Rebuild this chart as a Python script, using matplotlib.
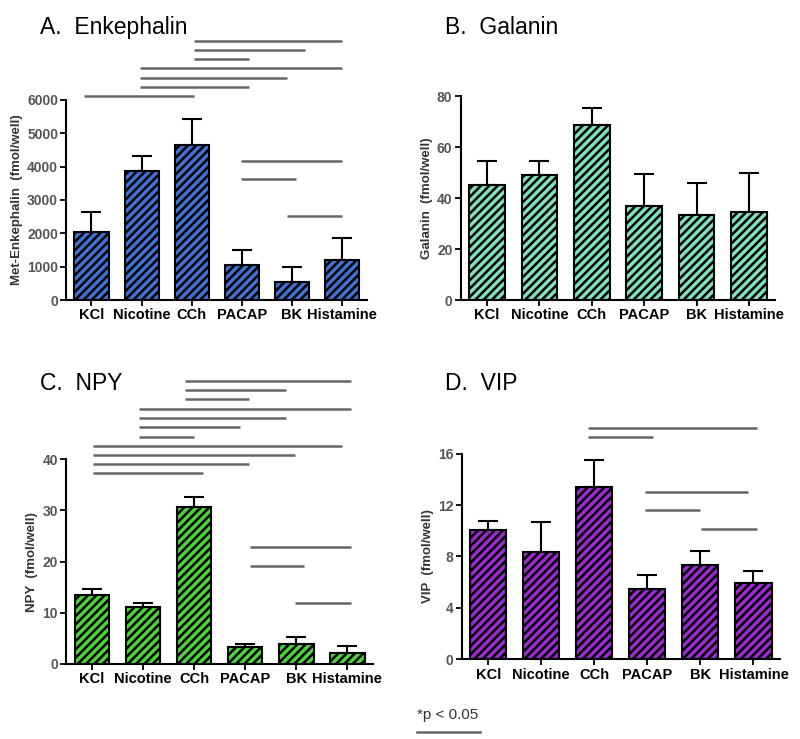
import matplotlib.pyplot as plt
import numpy as np

plt.rcParams['font.family'] = ['Liberation Sans', 'DejaVu Sans']
plt.rcParams['hatch.linewidth'] = 1.8

groups = ['KCl', 'Nicotine', 'CCh', 'PACAP', 'BK', 'Histamine']

enk_mean = [2050, 3880, 4640, 1050, 530, 1200]
enk_err = [580, 450, 780, 450, 450, 650]
gal_mean = [45.0, 48.9, 68.5, 36.7, 33.3, 34.5]
gal_err = [9.7, 5.5, 6.9, 12.9, 12.6, 15.3]
npy_mean = [13.4, 11.2, 30.7, 3.3, 3.9, 2.1]
npy_err = [1.2, 0.8, 1.9, 0.6, 1.3, 1.5]
vip_mean = [10.08, 8.36, 13.4, 5.45, 7.35, 5.92]
vip_err = [0.67, 2.29, 2.08, 1.1, 1.09, 0.91]

# significance bars: (x start, x end, y level)
enk_sig = [(2.05, 5.0, 7770), (2.05, 4.25, 7490), (2.05, 3.15, 7210),
           (0.96, 5.0, 6940), (0.96, 3.9, 6660), (0.96, 3.15, 6380),
           (-0.15, 2.05, 6100),
           (2.99, 5.0, 4170), (2.99, 4.07, 3620), (3.9, 5.0, 2520)]
npy_sig = [(1.83, 5.07, 55.3), (1.83, 3.8, 53.5), (1.83, 3.08, 51.7),
           (0.92, 5.07, 49.9), (0.92, 3.8, 48.0), (0.92, 2.9, 46.3), (0.92, 1.99, 44.4),
           (0.02, 4.9, 42.6), (0.02, 3.98, 40.8), (0.02, 3.08, 39.0), (0.02, 2.18, 37.3),
           (3.09, 5.07, 22.8), (3.09, 4.16, 19.2), (3.98, 5.07, 11.9)]
vip_sig = [(1.88, 5.07, 18.03), (1.88, 3.1, 17.3),
           (2.96, 4.89, 12.99), (2.96, 4.0, 11.58), (4.02, 5.07, 10.13)]
gal_sig = []

fig = plt.figure(figsize=(8, 7.39), dpi=100)

panels = [
    ([0.083, 0.594, 0.376, 0.271], 'A.  Enkephalin', enk_mean, enk_err, enk_sig,
     '#3f73d6', 'Met-Enkephalin  (fmol/well)', 6000, 1000, (0.05, 0.978)),
    ([0.576, 0.594, 0.393, 0.276], 'B.  Galanin', gal_mean, gal_err, gal_sig,
     '#7fe3bd', 'Galanin  (fmol/well)', 80, 20, (0.556, 0.978)),
    ([0.083, 0.1015, 0.383, 0.277], 'C.  NPY', npy_mean, npy_err, npy_sig,
     '#4cd43a', 'NPY  (fmol/well)', 40, 10, (0.05, 0.496)),
    ([0.577, 0.108, 0.398, 0.278], 'D.  VIP', vip_mean, vip_err, vip_sig,
     '#9b2ad0', 'VIP  (fmol/well)', 16, 4, (0.556, 0.496)),
]

x = np.arange(len(groups))
for rect, title, mean, err, sig, color, ylab, ymax, ystep, tpos in panels:
    ax = fig.add_axes(rect)
    ax.bar(x, mean, width=0.68, color=color, edgecolor='black', linewidth=1.5,
           hatch='////', zorder=2)
    ax.errorbar(x, mean, yerr=[np.zeros(len(mean)), err], fmt='none',
                ecolor='black', elinewidth=1.5, capsize=7, capthick=1.5, zorder=1)
    for x0, x1, y in sig:
        ax.plot([x0, x1], [y, y], color='#666666', lw=1.8, clip_on=False,
                solid_capstyle='butt')
    ax.set_xlim(-0.5, 5.5)
    ax.set_ylim(0, ymax)
    ax.set_yticks(np.arange(0, ymax + 1, ystep))
    ax.set_xticks(x)
    ax.set_xticklabels(groups, fontweight='bold', fontsize=10.5)
    for lab in ax.get_yticklabels():
        lab.set_color('#555555')
        lab.set_fontsize(10)
        lab.set_fontweight('bold')
    ax.set_ylabel(ylab, fontweight='bold', fontsize=9.5, color='#333333', labelpad=3)
    ax.spines['top'].set_visible(False)
    ax.spines['right'].set_visible(False)
    ax.spines['left'].set_linewidth(1.5)
    ax.spines['bottom'].set_linewidth(1.5)
    ax.tick_params(direction='out', length=4, width=1.3, pad=2)
    fig.text(tpos[0], tpos[1], title, fontsize=16.5, ha='left', va='top')

fig.text(0.521, 0.023, '*p < 0.05', fontsize=11, color='#333333', ha='left', va='bottom')
fig.add_artist(plt.Line2D([0.521, 0.6], [0.009, 0.009], color='#666666', lw=1.8))

fig.savefig('out.png', dpi=100)
